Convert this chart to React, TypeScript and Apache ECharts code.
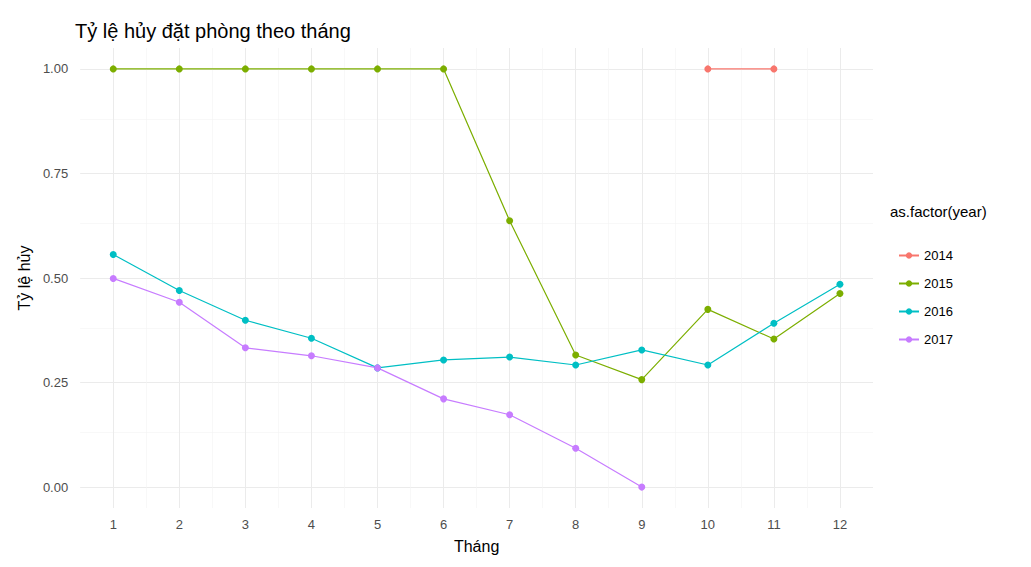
import { useEffect, useRef } from 'react'
import * as echarts from 'echarts'

const months = [1, 2, 3, 4, 5, 6, 7, 8, 9, 10, 11, 12]
const years = ['2014', '2015', '2016', '2017']
const colors = ['#F8766D', '#7CAE00', '#00BFC4', '#C77CFF']

// tỷ lệ hủy theo tháng, null = không có dữ liệu
const rate2014 = [null, null, null, null, null, null, null, null, null, 1, 1, null]
const rate2015 = [1, 1, 1, 1, 1, 1, 0.637, 0.316, 0.257, 0.425, 0.354, 0.463]
const rate2016 = [0.556, 0.47, 0.399, 0.356, 0.285, 0.304, 0.311, 0.292, 0.328, 0.292, 0.392, 0.485]
const rate2017 = [0.499, 0.442, 0.333, 0.314, 0.285, 0.211, 0.173, 0.093, 0, null, null, null]

const yTicks = [0, 0.25, 0.5, 0.75, 1]
const yMinor = [-0.125, 0.125, 0.375, 0.625, 0.875]
const xMinor = [1.5, 2.5, 3.5, 4.5, 5.5, 6.5, 7.5, 8.5, 9.5, 10.5, 11.5]

const font = 'Liberation Sans, Arial, sans-serif'

export default function App() {
  const ref = useRef<HTMLDivElement>(null)

  useEffect(() => {
    if (!ref.current) return
    const chart = echarts.init(ref.current, undefined, { renderer: 'svg' })
    const all = [rate2014, rate2015, rate2016, rate2017]

    // lưới nền kiểu theme_minimal, vẽ dưới các đường dữ liệu
    const gridLines = {
      type: 'line',
      data: [],
      silent: true,
      z: 0,
      markLine: {
        silent: true,
        symbol: 'none',
        z: 0,
        label: { show: false },
        animation: false,
        data: [
          ...yTicks.map(v => ({ yAxis: v, lineStyle: { color: '#ebebeb', width: 1, type: 'solid' } })),
          ...yMinor.map(v => ({ yAxis: v, lineStyle: { color: '#f4f4f4', width: 0.6, type: 'solid' } })),
          ...months.map(v => ({ xAxis: v, lineStyle: { color: '#ebebeb', width: 1, type: 'solid' } })),
          ...xMinor.map(v => ({ xAxis: v, lineStyle: { color: '#f4f4f4', width: 0.6, type: 'solid' } })),
        ],
      },
    }

    chart.setOption({
      animation: false,
      backgroundColor: '#fff',
      textStyle: { fontFamily: font },
      title: {
        text: 'Tỷ lệ hủy đặt phòng theo tháng',
        left: 62, top: 8,
        textStyle: { fontSize: 20, fontWeight: 'normal', color: '#000', fontFamily: font },
      },
      grid: { left: 67, right: 150, top: 40, bottom: 47 },
      xAxis: {
        type: 'value', min: 0.5, max: 12.5,
        name: 'Tháng', nameLocation: 'middle', nameGap: 30,
        nameTextStyle: { fontSize: 16, color: '#000' },
        axisLine: { show: false }, axisTick: { show: false }, splitLine: { show: false },
        axisLabel: { customValues: months, color: '#4d4d4d', fontSize: 13, margin: 10 },
      },
      yAxis: {
        type: 'value', min: -0.05, max: 1.05,
        name: 'Tỷ lệ hủy', nameLocation: 'middle', nameGap: 48,
        nameTextStyle: { fontSize: 16, color: '#000' },
        axisLine: { show: false }, axisTick: { show: false }, splitLine: { show: false },
        axisLabel: {
          customValues: yTicks, color: '#4d4d4d', fontSize: 13, margin: 12,
          formatter: (v: number) => v.toFixed(2),
        },
      },
      legend: {
        orient: 'vertical', left: 885, top: 236, itemGap: 15,
        itemWidth: 20, itemHeight: 8,
        textStyle: { fontSize: 13, color: '#000' },
        data: years,
      },
      graphic: [
        { type: 'text', left: 882, top: 196, style: { text: 'as.factor(year)', fontSize: 15, fill: '#000', fontFamily: font } },
      ],
      series: [
        gridLines,
        ...years.map((y, i) => ({
          name: y,
          type: 'line',
          z: 5,
          data: months.map((m, j) => (all[i][j] == null ? null : [m, all[i][j]])),
          connectNulls: false,
          color: colors[i],
          symbol: 'circle', symbolSize: 7,
          lineStyle: { width: 1.2 },
        })),
      ],
    })
    return () => chart.dispose()
  }, [])

  return <div ref={ref} style={{ width: 1015, height: 551 }} />
}
